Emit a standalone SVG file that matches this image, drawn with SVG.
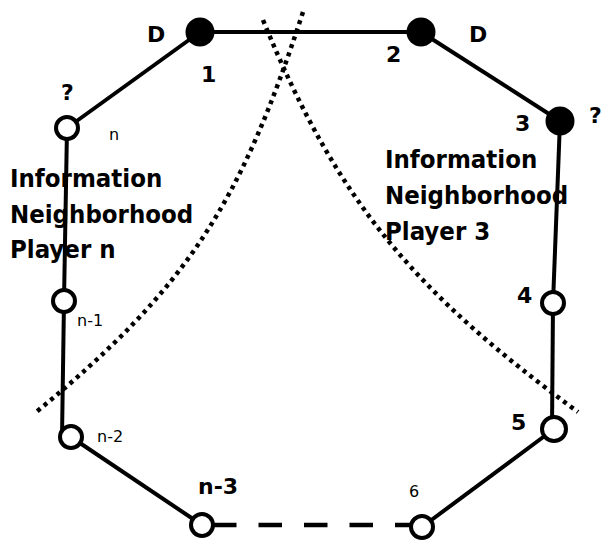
<svg xmlns="http://www.w3.org/2000/svg" width="601" height="540" viewBox="0 0 601 540">
  <style>
    .edge { stroke: #000; stroke-width: 4; fill: none; }
    .dash { stroke: #000; stroke-width: 4.5; fill: none; stroke-dasharray: 23.5 22; }
    .dots { stroke: #000; stroke-width: 4.5; fill: none; stroke-dasharray: 4 4.5; }
    .full { fill: #000; }
    .open { fill: #fff; stroke: #000; stroke-width: 4; }
    .big { font-family: "DejaVu Sans", Verdana, sans-serif; font-size: 22px; font-weight: bold; }
    .small { font-family: "DejaVu Sans", Verdana, sans-serif; font-size: 16px; }
    .hood { font-family: "DejaVu Sans", Verdana, sans-serif; font-size: 25.5px; font-weight: bold; font-stretch: condensed; }
  </style>
  <rect width="601" height="540" fill="#fff"/>

  <!-- neighbourhood boundaries -->
  <g id="boundaries">
    <path class="dots" d="M303,12 C241,202 189,287 35,413"/>
    <path class="dots" d="M263,20 C338.6,205 416.8,293.6 578,412"/>
  </g>

  <!-- ring links -->
  <g id="connectors">
    <line class="edge" x1="200" y1="32" x2="421" y2="32"/>
    <line class="edge" x1="421" y1="32" x2="560" y2="121"/>
    <line class="edge" x1="560" y1="121" x2="553" y2="303"/>
    <line class="edge" x1="553" y1="303" x2="552" y2="429"/>
    <line class="edge" x1="554" y1="429" x2="422" y2="527"/>
    <line class="dash" x1="213" y1="525" x2="411" y2="525"/>
    <line class="edge" x1="202" y1="525" x2="71" y2="437"/>
    <line class="edge" x1="62" y1="437" x2="64" y2="301"/>
    <line class="edge" x1="64" y1="301" x2="67" y2="128"/>
    <line class="edge" x1="67" y1="128" x2="200" y2="32"/>
  </g>

  <g id="node-1"><circle class="full" cx="200" cy="32" r="14.5"/><text class="big" x="201" y="82">1</text><text class="big" x="147" y="42">D</text></g>
  <g id="node-2"><circle class="full" cx="421" cy="32" r="14.5"/><text class="big" x="386" y="62">2</text><text class="big" x="469" y="42">D</text></g>
  <g id="node-3"><circle class="full" cx="560" cy="121" r="14.5"/><text class="big" x="515" y="131">3</text><text class="big" x="589" y="123">?</text></g>
  <g id="node-4"><circle class="open" cx="553" cy="303" r="11"/><text class="big" x="517" y="303">4</text></g>
  <g id="node-5"><circle class="open" cx="554" cy="429" r="12"/><text class="big" x="511" y="430">5</text></g>
  <g id="node-6"><circle class="open" cx="422" cy="527" r="11"/><text class="small" x="409" y="497">6</text></g>
  <g id="node-n-3"><circle class="open" cx="202" cy="525" r="11"/><text class="big" x="198" y="494">n-3</text></g>
  <g id="node-n-2"><circle class="open" cx="71" cy="437" r="11"/><text class="small" x="97" y="442">n-2</text></g>
  <g id="node-n-1"><circle class="open" cx="64" cy="301" r="11"/><text class="small" x="77" y="326">n-1</text></g>
  <g id="node-n"><circle class="open" cx="67" cy="128" r="11"/><text class="small" x="109" y="140">n</text><text class="big" x="61" y="100">?</text></g>

  <g id="label-player-n">
    <text class="hood" x="10" y="187">Information</text>
    <text class="hood" x="10" y="223">Neighborhood</text>
    <text class="hood" x="10" y="258">Player n</text>
  </g>
  <g id="label-player-3">
    <text class="hood" x="385" y="168">Information</text>
    <text class="hood" x="385" y="204">Neighborhood</text>
    <text class="hood" x="385" y="240">Player 3</text>
  </g>
</svg>
